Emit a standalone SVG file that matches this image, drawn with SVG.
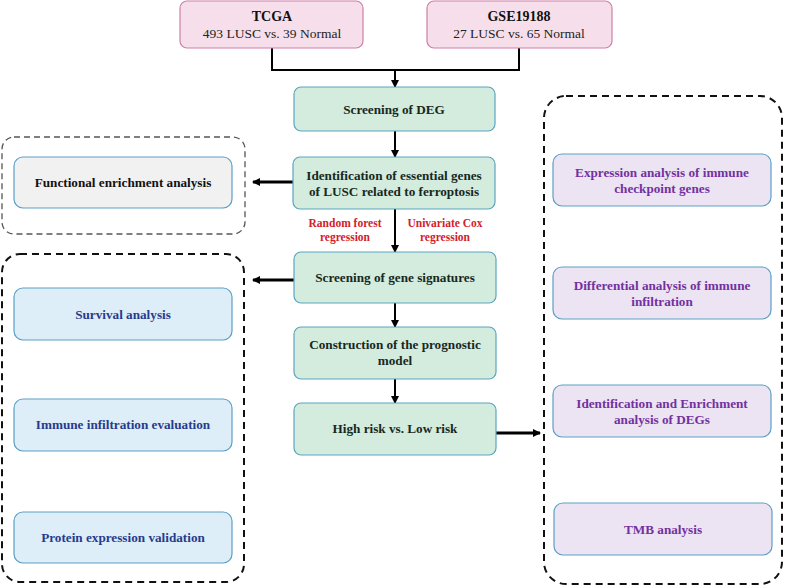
<svg xmlns="http://www.w3.org/2000/svg" width="800" height="588" viewBox="0 0 800 588" font-family="'Liberation Serif', 'DejaVu Serif', serif">
<defs>
<marker id="ah" markerWidth="8" markerHeight="8" refX="7" refY="4" orient="auto" markerUnits="userSpaceOnUse">
<path d="M0,0 L8,4 L0,8 Z" fill="#000"/>
</marker>
<style>
text{font-family:'Liberation Serif','DejaVu Serif',serif;font-weight:bold;font-size:13.2px;text-anchor:middle}
.pink{fill:#f6dfea;stroke:#cf7fa8;stroke-width:1.2}
.green{fill:#d3ecdd;stroke:#5ba5c2;stroke-width:1.2}
.gray{fill:#f1f1f1;stroke:#5b9fc6;stroke-width:1.2}
.blue{fill:#deeef9;stroke:#5b9fc6;stroke-width:1.2}
.purple{fill:#ece4f3;stroke:#5b9fc6;stroke-width:1.2}
.tg{fill:#17281f}
.tb{fill:#263b8c}
.tp{fill:#7331a0}
.tr{fill:#d2202b;font-size:11.5px}
.reg{font-weight:normal;font-size:13.5px}
.hd{font-size:14px}
.dash{fill:none;stroke:#111;stroke-width:2;stroke-dasharray:7,5}
.dashg{fill:none;stroke:#555;stroke-width:1.3;stroke-dasharray:6,4}
.ln{fill:none;stroke:#000;stroke-width:2}
.ln3{fill:none;stroke:#000;stroke-width:3}
</style>
</defs>
<g id="groups">
<rect class="dashg" x="2" y="137" width="243" height="97" rx="12"/>
<rect class="dash" x="2" y="254" width="242" height="328" rx="18"/>
<rect class="dash" x="544" y="96" width="238" height="488" rx="22"/>
</g>
<g id="connectors">
<path class="ln" d="M272,48 V70 H519 V48"/>
<path class="ln" d="M395,70 V87" marker-end="url(#ah)"/>
<path class="ln" d="M395,131 V157" marker-end="url(#ah)"/>
<path class="ln" d="M395,209 V252" marker-end="url(#ah)"/>
<path class="ln" d="M395,303 V327" marker-end="url(#ah)"/>
<path class="ln" d="M395,379 V403" marker-end="url(#ah)"/>
<path class="ln3" d="M293,182 H253" marker-end="url(#ah)"/>
<path class="ln3" d="M294,280 H253" marker-end="url(#ah)"/>
<path class="ln3" d="M496,433 H540" marker-end="url(#ah)"/>
<text class="tr" x="345" y="227">Random forest</text>
<text class="tr" x="345" y="241">regression</text>
<text class="tr" x="445" y="227">Univariate Cox</text>
<text class="tr" x="445" y="241">regression</text>
</g>
<g id="tcga"><rect class="pink" x="180" y="1" width="183" height="47" rx="7"/>
<text class="hd" x="272" y="21" fill="#111">TCGA</text><text class="reg" x="272" y="38" fill="#222">493 LUSC vs. 39 Normal</text></g>
<g id="gse"><rect class="pink" x="427" y="1" width="185" height="47" rx="7"/>
<text class="hd" x="519" y="21" fill="#111">GSE19188</text><text class="reg" x="519" y="38" fill="#222">27 LUSC vs. 65 Normal</text></g>
<g id="deg"><rect class="green" x="294" y="87" width="201" height="44" rx="7"/>
<text class="tg" x="394" y="114">Screening of DEG</text></g>
<g id="ident"><rect class="green" x="293" y="157" width="202" height="52" rx="7"/>
<text class="tg" x="394" y="180">Identification of essential genes</text><text class="tg" x="394" y="196">of LUSC related to ferroptosis</text></g>
<g id="func"><rect class="gray" x="14" y="157" width="218" height="51" rx="9"/>
<text x="123" y="187" fill="#111">Functional enrichment analysis</text></g>
<g id="sig"><rect class="green" x="294" y="252" width="202" height="51" rx="7"/>
<text class="tg" x="395" y="282">Screening of gene signatures</text></g>
<g id="model"><rect class="green" x="294" y="327" width="202" height="52" rx="7"/>
<text class="tg" x="395" y="349">Construction of the prognostic</text><text class="tg" x="395" y="365">model</text></g>
<g id="risk"><rect class="green" x="294" y="403" width="202" height="52" rx="7"/>
<text class="tg" x="395" y="433">High risk vs. Low risk</text></g>
<g id="surv"><rect class="blue" x="14" y="288" width="218" height="52" rx="9"/>
<text class="tb" x="123" y="319">Survival analysis</text></g>
<g id="immune"><rect class="blue" x="14" y="399" width="218" height="52" rx="9"/>
<text class="tb" x="123" y="429">Immune infiltration evaluation</text></g>
<g id="protein"><rect class="blue" x="14" y="512" width="218" height="51" rx="9"/>
<text class="tb" x="123" y="542">Protein expression validation</text></g>
<g id="checkpoint"><rect class="purple" x="553" y="154" width="218" height="52" rx="9"/>
<text class="tp" x="662" y="177">Expression analysis of immune</text><text class="tp" x="662" y="193">checkpoint genes</text></g>
<g id="diffimm"><rect class="purple" x="553" y="267" width="218" height="52" rx="9"/>
<text class="tp" x="662" y="290">Differential analysis of immune</text><text class="tp" x="662" y="306">infiltration</text></g>
<g id="degs"><rect class="purple" x="553" y="385" width="218" height="52" rx="9"/>
<text class="tp" x="662" y="408">Identification and Enrichment</text><text class="tp" x="662" y="424">analysis of DEGs</text></g>
<g id="tmb"><rect class="purple" x="554" y="503" width="218" height="52" rx="9"/>
<text class="tp" x="663" y="534">TMB analysis</text></g>
</svg>
